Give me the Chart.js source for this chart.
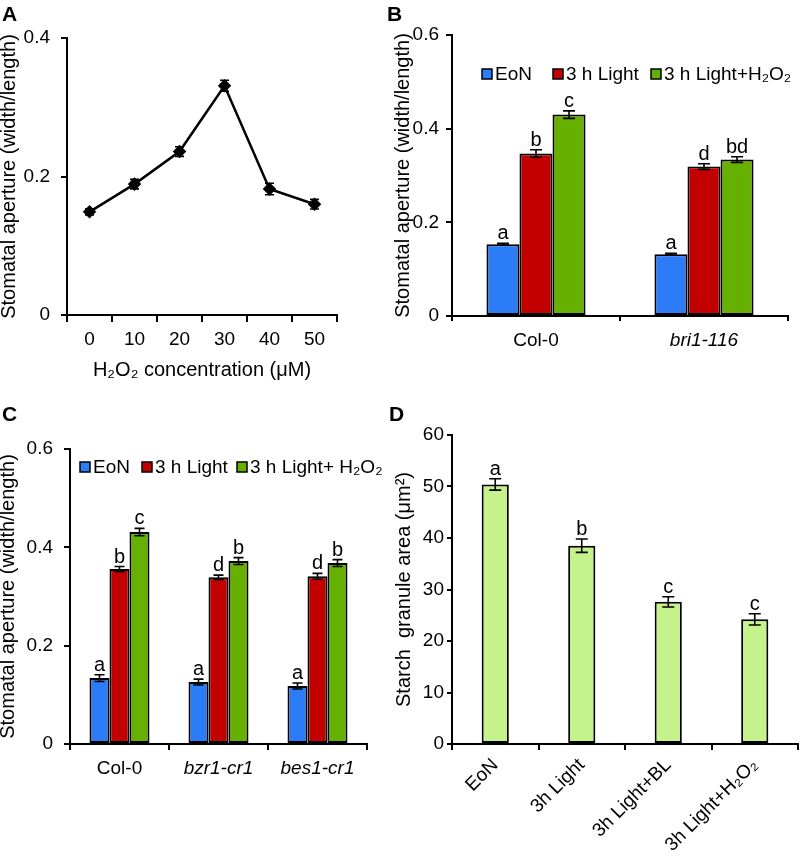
<!DOCTYPE html>
<html>
<head>
<meta charset="utf-8">
<script src="https://cdn.jsdelivr.net/npm/chart.js@4.4.1/dist/chart.umd.min.js"></script>
<style>
  html, body { margin: 0; padding: 0; background: #fff; }
  #fig { position: relative; width: 800px; height: 862px; overflow: hidden; }
  #fig canvas { position: absolute; }
  .tag { position: absolute; font: bold 21px "Liberation Sans", Arial, sans-serif; color: #000; line-height: 1; }
</style>
</head>
<body>
<div id="fig">
  <canvas id="chartA" width="400" height="420" style="left:0;top:0"></canvas>
  <canvas id="chartB" width="415" height="420" style="left:385px;top:0"></canvas>
  <canvas id="chartC" width="400" height="442" style="left:0;top:420px"></canvas>
  <canvas id="chartD" width="415" height="442" style="left:385px;top:420px"></canvas>
  <div class="tag" style="left:2px;top:3px">A</div>
  <div class="tag" style="left:387px;top:3px">B</div>
  <div class="tag" style="left:2px;top:403px">C</div>
  <div class="tag" style="left:389px;top:403px">D</div>
</div>
<script>
// ─── Data ─────────────────────────────────────────────────
// A: stomatal aperture vs H2O2 concentration
const concLabels = ['0', '10', '20', '30', '40', '50'];
const apertureA = [0.149, 0.189, 0.236, 0.331, 0.182, 0.160];
const apertureAErr = [0.0045, 0.0068, 0.007, 0.008, 0.0083, 0.007];

// B: Col-0 vs bri1-116
const genotypesB = ['Col-0', 'bri1-116'];
const eonB = [0.153, 0.132];
const lightB = [0.347, 0.319];
const lightH2O2B = [0.430, 0.334];
const eonBErr = [0.002, 0.002];
const lightBErr = [0.008, 0.006];
const lightH2O2BErr = [0.008, 0.006];
const eonBLetters = ['a', 'a'];
const lightBLetters = ['b', 'd'];
const lightH2O2BLetters = ['c', 'bd'];

// C: Col-0 vs bzr1-cr1 / bes1-cr1
const genotypesC = ['Col-0', 'bzr1-cr1', 'bes1-cr1'];
const eonC = [0.134, 0.126, 0.118];
const lightC = [0.356, 0.339, 0.341];
const lightH2O2C = [0.431, 0.372, 0.368];
const eonCErr = [0.007, 0.006, 0.006];
const lightCErr = [0.005, 0.0045, 0.006];
const lightH2O2CErr = [0.0075, 0.007, 0.007];
const eonCLetters = ['a', 'a', 'a'];
const lightCLetters = ['b', 'd', 'd'];
const lightH2O2CLetters = ['c', 'b', 'b'];

// D: starch granule area
const starchLabels = ['EoN', '3h Light', '3h Light+BL', '3h Light+H₂O₂'];
const starchArea = [50.4, 38.5, 27.6, 24.2];
const starchErr = [1.1, 1.3, 1.0, 1.1];
const starchLetters = ['a', 'b', 'c', 'c'];

// ─── Look ─────────────────────────────────────────────────
const FONT = '"Liberation Sans", Arial, sans-serif';
const BLUE = '#2b7cf6', RED = '#c20000', GREEN = '#66b000', LIGHT_GREEN = '#c6f28c';

Chart.defaults.font.family = FONT;
Chart.defaults.font.size = 19;
Chart.defaults.color = '#000';
Chart.defaults.animation = false;
Chart.defaults.plugins.legend.display = false;
Chart.defaults.plugins.tooltip.enabled = false;

// error bars + significance letters, drawn over the marks
const errorBars = {
  id: 'errorBars',
  afterDatasetsDraw(chart, args, opts) {
    const { ctx } = chart;
    const y = chart.scales.y;
    const half = (opts.cap || 10) / 2;
    ctx.save();
    chart.data.datasets.forEach((ds, i) => {
      if (!ds.errors) return;
      chart.getDatasetMeta(i).data.forEach((el, j) => {
        const v = ds.data[j], e = ds.errors[j];
        const top = y.getPixelForValue(v + e);
        const bot = y.getPixelForValue(v - e);
        ctx.strokeStyle = '#000';
        ctx.lineWidth = 1.6;
        ctx.beginPath();
        ctx.moveTo(el.x, top); ctx.lineTo(el.x, bot);
        ctx.moveTo(el.x - half, top); ctx.lineTo(el.x + half, top);
        ctx.moveTo(el.x - half, bot); ctx.lineTo(el.x + half, bot);
        ctx.stroke();
        if (ds.letters) {
          ctx.fillStyle = '#000';
          ctx.font = '20px ' + FONT;
          ctx.textAlign = 'center';
          ctx.textBaseline = 'alphabetic';
          ctx.fillText(ds.letters[j], el.x, top - 4);
        }
      });
    });
    ctx.restore();
  },
};

// small boxed legend that sits inside the plot
const boxLegend = {
  id: 'boxLegend',
  afterDraw(chart, args, opts) {
    if (!opts.boxes) return;
    const { ctx } = chart;
    ctx.save();
    ctx.font = '19px ' + FONT;
    ctx.textBaseline = 'middle';
    ctx.textAlign = 'left';
    chart.data.datasets.forEach((ds, i) => {
      const x = opts.boxes[i], y = opts.y;
      ctx.fillStyle = ds.backgroundColor;
      ctx.fillRect(x, y - 5, 10, 10);
      ctx.strokeStyle = '#000';
      ctx.lineWidth = 1.5;
      ctx.strokeRect(x, y - 5, 10, 10);
      ctx.fillStyle = '#000';
      ctx.fillText(ds.label, x + 13, y + 1);
    });
    ctx.restore();
  },
};

Chart.register(errorBars, boxLegend);

function yAxis(max, step, width, tickPad, tickLen, title, titlePad) {
  return {
    min: 0, max,
    ticks: { stepSize: step, padding: tickPad, color: '#000' },
    grid: { drawOnChartArea: false, tickLength: tickLen, color: '#000', lineWidth: 2 },
    border: { color: '#000', width: 2 },
    title: { display: true, text: title, color: '#000', font: { size: 20 }, padding: { top: titlePad, bottom: 0 } },
    afterFit: s => { s.width = width; },
  };
}

function xAxis(height, tickPad, tickLen, extra) {
  return Object.assign({
    offset: true,
    grid: { offset: true, drawOnChartArea: false, tickLength: tickLen, color: '#000', lineWidth: 2 },
    border: { color: '#000', width: 2 },
    ticks: { padding: tickPad, color: '#000', autoSkip: false, maxRotation: 0 },
    afterFit: s => { s.height = height; },
  }, extra || {});
}

function barSet(label, data, color, errors, letters) {
  return {
    label, data, errors, letters,
    backgroundColor: color,
    borderColor: '#000',
    borderWidth: 2,
    borderSkipped: false,
  };
}

const italicAfterFirst = c => ({ size: 19, style: c.index > 0 ? 'italic' : 'normal' });

// ─── A: line chart ────────────────────────────────────────
new Chart(document.getElementById('chartA'), {
  type: 'line',
  data: {
    labels: concLabels,
    datasets: [{
      data: apertureA,
      errors: apertureAErr,
      borderColor: '#000',
      borderWidth: 2.5,
      pointStyle: 'rectRot',
      pointRadius: 5,
      pointBackgroundColor: '#000',
      pointBorderColor: '#000',
      tension: 0,
    }],
  },
  options: {
    responsive: false,
    layout: { padding: { left: 0, top: 38, right: 63, bottom: 0 } },
    plugins: { errorBars: { cap: 9 } },
    scales: {
      x: xAxis(105, 6, 7, {
        title: { display: true, text: 'H₂O₂ concentration (μM)', color: '#000', font: { size: 20 }, padding: { top: 0, bottom: 38 } },
      }),
      y: yAxis(0.4, 0.2, 67, 11, 6, 'Stomatal aperture (width/length)', -3),
    },
  },
});

// ─── B: grouped bars ──────────────────────────────────────
new Chart(document.getElementById('chartB'), {
  type: 'bar',
  data: {
    labels: genotypesB,
    datasets: [
      barSet('EoN', eonB, BLUE, eonBErr, eonBLetters),
      barSet('3 h Light', lightB, RED, lightBErr, lightBLetters),
      barSet('3 h Light+H₂O₂', lightH2O2B, GREEN, lightH2O2BErr, lightH2O2BLetters),
    ],
  },
  options: {
    responsive: false,
    layout: { padding: { left: 0, top: 35, right: 12, bottom: 0 } },
    datasets: { bar: { categoryPercentage: 0.59, barPercentage: 1 } },
    plugins: { errorBars: { cap: 12 }, boxLegend: { boxes: [97, 168, 266], y: 74 } },
    scales: {
      x: xAxis(104, 8, 5, { ticks: { padding: 8, color: '#000', font: italicAfterFirst } }),
      y: yAxis(0.6, 0.2, 67, 7, 6, 'Stomatal aperture (width/length)', 6),
    },
  },
});

// ─── C: grouped bars, three genotypes ────────────────────
new Chart(document.getElementById('chartC'), {
  type: 'bar',
  data: {
    labels: genotypesC,
    datasets: [
      barSet('EoN', eonC, BLUE, eonCErr, eonCLetters),
      barSet('3 h Light', lightC, RED, lightCErr, lightCLetters),
      barSet('3 h Light+ H₂O₂', lightH2O2C, GREEN, lightH2O2CErr, lightH2O2CLetters),
    ],
  },
  options: {
    responsive: false,
    layout: { padding: { left: 0, top: 29, right: 33, bottom: 0 } },
    datasets: { bar: { categoryPercentage: 0.606, barPercentage: 1 } },
    plugins: { errorBars: { cap: 10 }, boxLegend: { boxes: [80, 142, 237], y: 47 } },
    scales: {
      x: xAxis(118, 7, 6, { ticks: { padding: 7, color: '#000', font: italicAfterFirst } }),
      y: yAxis(0.6, 0.2, 70, 11, 6, 'Stomatal aperture (width/length)', -4),
    },
  },
});

// ─── D: starch granule area ──────────────────────────────
new Chart(document.getElementById('chartD'), {
  type: 'bar',
  data: {
    labels: starchLabels,
    datasets: [barSet('Starch granule area', starchArea, LIGHT_GREEN, starchErr, starchLetters)],
  },
  options: {
    responsive: false,
    layout: { padding: { left: 0, top: 15, right: 2, bottom: 0 } },
    datasets: { bar: { categoryPercentage: 1, barPercentage: 0.314 } },
    plugins: { errorBars: { cap: 12 } },
    scales: {
      x: xAxis(118, 6, 6, { ticks: { padding: 4, color: '#000', autoSkip: false, minRotation: 45, maxRotation: 45 } }),
      y: yAxis(60, 10, 67, 3, 5, 'Starch  granule area (μm²)', 7),
    },
  },
});
</script>
</body>
</html>
